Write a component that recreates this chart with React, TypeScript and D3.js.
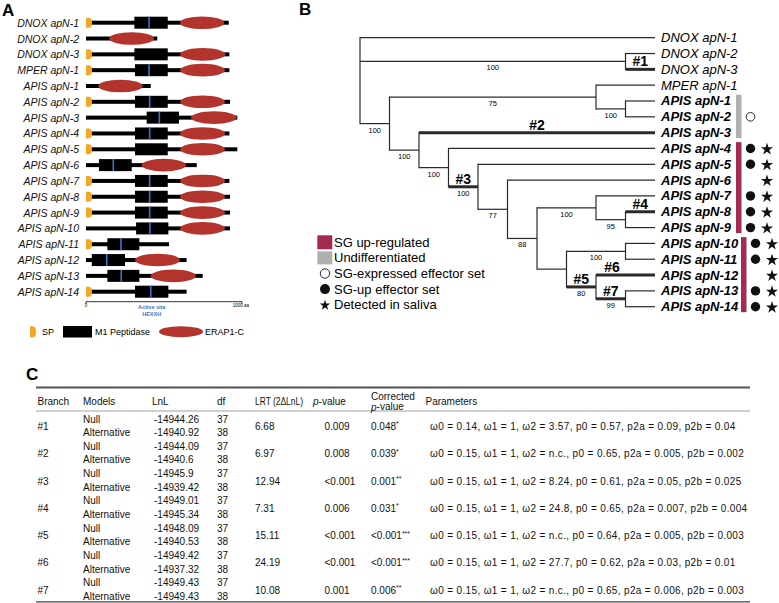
import React from 'react';
import * as d3 from 'd3';

const FONT = "'Liberation Sans', Arial, Helvetica, sans-serif";

// ---------- Panel A data ----------
const rowsA = ['DNOX apN-1', 'DNOX apN-2', 'DNOX apN-3', 'MPER apN-1', 'APIS apN-1', 'APIS apN-2', 'APIS apN-3', 'APIS apN-4', 'APIS apN-5', 'APIS apN-6', 'APIS apN-7', 'APIS apN-8', 'APIS apN-9', 'APIS apN-10', 'APIS apN-11', 'APIS apN-12', 'APIS apN-13', 'APIS apN-14'];
const protLength = [915, 457, 919, 919, 415, 923, 970, 919, 970, 710, 919, 923, 923, 923, 532, 645, 748, 645];
const hasSP = [1, 0, 1, 1, 0, 1, 0, 1, 1, 0, 1, 1, 1, 0, 1, 0, 0, 1];
const m1Start = [310, null, 310, 314, null, 314, 389, 314, 314, 83, 314, 314, 314, 321, 137, 37, 137, 314];
const m1End = [524, null, 524, 524, null, 524, 596, 524, 524, 293, 524, 524, 524, 528, 342, 250, 342, 528];
const activeSite = [404, null, null, 404, null, 408, 470, 408, null, 175, 408, 408, 408, 410, 224, 133, 226, 415];
const erapStart = [603, 149, 603, 603, 79, 603, 673, 603, 603, 357, 603, 603, 603, 603, null, 314, 415, null];
const erapEnd = [885, 436, 894, 891, 363, 891, 966, 891, 891, 641, 891, 891, 891, 891, null, 603, 705, null];
const axisTicks = [0, 1000];
const legendA = ['SP', 'M1 Peptidase', 'ERAP1-C'];

// ---------- Panel B data ----------
type TNode = { name?: string; level?: number; support?: string; mark?: string; markFrac?: number; children?: TNode[] };
const treeData: TNode = {
  level: 0,
  children: [
    { name: 'DNOX apN-1' },
    { level: 9, support: '100', children: [{ name: 'DNOX apN-2' }, { name: 'DNOX apN-3', mark: '#1' }] },
    {
      level: 1, support: '100', children: [
        { level: 8, support: '75', children: [{ name: 'MPER apN-1' }, { level: 9, support: '100', children: [{ name: 'APIS apN-1' }, { name: 'APIS apN-2' }] }] },
        {
          level: 2, support: '100', children: [
            { name: 'APIS apN-3', mark: '#2' },
            {
              level: 3, support: '100', children: [
                { name: 'APIS apN-4' },
                {
                  level: 4, support: '100', mark: '#3', children: [
                    { name: 'APIS apN-5' },
                    {
                      level: 5, support: '77', children: [
                        { name: 'APIS apN-6' },
                        {
                          level: 6, support: '88', children: [
                            { level: 8, support: '100', children: [{ name: 'APIS apN-7' }, { level: 9, support: '95', children: [{ name: 'APIS apN-8', mark: '#4' }, { name: 'APIS apN-9' }] }] },
                            {
                              level: 7, children: [
                                { level: 9, support: '100', children: [{ name: 'APIS apN-10' }, { name: 'APIS apN-11' }] },
                                { level: 8, support: '80', mark: '#5', children: [{ name: 'APIS apN-12', mark: '#6', markFrac: 0.27 }, { level: 9, support: '99', mark: '#7', children: [{ name: 'APIS apN-13' }, { name: 'APIS apN-14' }] }] },
                              ],
                            },
                          ],
                        },
                      ],
                    },
                  ],
                },
              ],
            },
          ],
        },
      ],
    },
  ],
};
const tipLevel = 10;
const exprGroups = [
  { type: 'undiff', leaves: ['APIS apN-1', 'APIS apN-2', 'APIS apN-3'] },
  { type: 'up', leaves: ['APIS apN-4', 'APIS apN-5', 'APIS apN-6', 'APIS apN-7', 'APIS apN-8', 'APIS apN-9'] },
  { type: 'up', leaves: ['APIS apN-10', 'APIS apN-11', 'APIS apN-12', 'APIS apN-13', 'APIS apN-14'] },
];
const circleLeaves = ['APIS apN-2', 'APIS apN-4', 'APIS apN-5', 'APIS apN-7', 'APIS apN-8', 'APIS apN-9', 'APIS apN-10', 'APIS apN-11', 'APIS apN-13', 'APIS apN-14'];
const circleKind = ['open', 'filled', 'filled', 'filled', 'filled', 'filled', 'filled', 'filled', 'filled', 'filled'];
const starLeaves = ['APIS apN-4', 'APIS apN-5', 'APIS apN-6', 'APIS apN-7', 'APIS apN-8', 'APIS apN-9', 'APIS apN-10', 'APIS apN-11', 'APIS apN-12', 'APIS apN-13', 'APIS apN-14'];
const legendB = ['SG up-regulated', 'Undifferentiated', 'SG-expressed effector set', 'SG-up effector set', 'Detected in saliva'];

// ---------- Panel C data ----------
const branches = ['#1', '#2', '#3', '#4', '#5', '#6', '#7'];
const lnlNull = ['-14944.26', '-14944.09', '-14945.9', '-14949.01', '-14948.09', '-14949.42', '-14949.43'];
const lnlAlt = ['-14940.92', '-14940.6', '-14939.42', '-14945.34', '-14940.53', '-14937.32', '-14949.43'];
const dfNull = 37;
const dfAlt = 38;
const lrt = ['6.68', '6.97', '12.94', '7.31', '15.11', '24.19', '10.08'];
const pValues = ['0.009', '0.008', '<0.001', '0.006', '<0.001', '<0.001', '0.001'];
const corrected = ['0.048', '0.039', '0.001', '0.031', '<0.001', '<0.001', '0.006'];
const signif = ['*', '*', '**', '*', '***', '***', '**'];
const params = [
  'ω0 = 0.14, ω1 = 1, ω2 = 3.57, p0 = 0.57, p2a = 0.09, p2b = 0.04',
  'ω0 = 0.15, ω1 = 1, ω2 = n.c., p0 = 0.65, p2a = 0.005, p2b = 0.002',
  'ω0 = 0.15, ω1 = 1, ω2 = 8.24, p0 = 0.61, p2a = 0.05, p2b = 0.025',
  'ω0 = 0.15, ω1 = 1, ω2 = 24.8, p0 = 0.65, p2a = 0.007, p2b = 0.004',
  'ω0 = 0.15, ω1 = 1, ω2 = n.c., p0 = 0.64, p2a = 0.005, p2b = 0.003',
  'ω0 = 0.15, ω1 = 1, ω2 = 27.7, p0 = 0.62, p2a = 0.03, p2b = 0.01',
  'ω0 = 0.15, ω1 = 1, ω2 = n.c., p0 = 0.65, p2a = 0.006, p2b = 0.003',
];

const ORANGE = '#f5a623';
const DARKRED = '#b3332d';
const BLUE = '#3d72c9';
const CRIMSON = '#a52a52';
const GREY = '#b0b0b0';
const LINE = '#2a2a2a';

function spPath(x: number, y: number, w: number, h: number) {
  return `M${x},${y - h / 2} h${w * 0.45} q${w * 0.55},0 ${w * 0.55},${h / 2} q0,${h / 2} ${-w * 0.55},${h / 2} h${-w * 0.45} z`;
}

function PanelA() {
  const x = d3.scaleLinear().domain([0, 1000]).range([86, 242]);
  const y = d3.scalePoint<string>().domain(rowsA).range([22.7, 291.7]);
  const boxH = 12;
  const axisY = 301.7;
  return (
    <g>
      <text x={2} y={16} fontSize={17} fontWeight="bold" fontFamily={FONT}>A</text>
      {rowsA.map((name, i) => {
        const cy = y(name)!;
        return (
          <g key={name}>
            <text x={79} y={cy} textAnchor="end" dominantBaseline="central" fontSize={10.5} fontStyle="italic" fontFamily={FONT} fill="#111">{name}</text>
            <rect x={x(0)} y={cy - 2} width={x(protLength[i]) - x(0)} height={4} fill="#000" />
            {m1Start[i] != null && (
              <rect x={x(m1Start[i]!)} y={cy - boxH / 2} width={x(m1End[i]!) - x(m1Start[i]!)} height={boxH} fill="#000" />
            )}
            {activeSite[i] != null && (
              <line x1={x(activeSite[i]!)} x2={x(activeSite[i]!)} y1={cy - boxH / 2} y2={cy + boxH / 2} stroke={BLUE} strokeWidth={1.6} />
            )}
            {erapStart[i] != null && (
              <ellipse cx={(x(erapStart[i]!) + x(erapEnd[i]!)) / 2} cy={cy} rx={(x(erapEnd[i]!) - x(erapStart[i]!)) / 2} ry={6.3} fill={DARKRED} />
            )}
            {hasSP[i] ? <path d={spPath(x(0), cy, 6, 10)} fill={ORANGE} /> : null}
          </g>
        );
      })}
      <line x1={x(0)} x2={x(1000)} y1={axisY} y2={axisY} stroke="#000" strokeWidth={0.8} />
      {axisTicks.map((t) => (
        <g key={t}>
          <line x1={x(t)} x2={x(t)} y1={axisY} y2={axisY + 2} stroke="#000" strokeWidth={0.8} />
          <text x={x(t) + (t === 0 ? 0 : -1)} y={axisY + 5} textAnchor="middle" fontSize={4.5} fontFamily={FONT}>{t === 0 ? '0' : `${t} aa`}</text>
        </g>
      ))}
      <text x={151.7} y={308.5} textAnchor="middle" fontSize={5.5} fontWeight="bold" fill={BLUE} fontFamily={FONT}>Active site</text>
      <text x={151.7} y={315.5} textAnchor="middle" fontSize={5.5} fontWeight="bold" fill={BLUE} fontFamily={FONT}>HEXXH</text>
      {/* legend */}
      <path d={spPath(30, 331.7, 6, 11)} fill={ORANGE} />
      <text x={42} y={331.7} dominantBaseline="central" fontSize={9} fontFamily={FONT}>{legendA[0]}</text>
      <rect x={63} y={326} width={29} height={11.5} fill="#000" />
      <text x={95} y={331.7} dominantBaseline="central" fontSize={9} fontFamily={FONT}>{legendA[1]}</text>
      <ellipse cx={181} cy={331.7} rx={22} ry={5.5} fill={DARKRED} />
      <text x={205} y={331.7} dominantBaseline="central" fontSize={9} fontFamily={FONT}>{legendA[2]}</text>
    </g>
  );
}

function PanelB() {
  const root = d3.hierarchy<TNode>(treeData);
  const leaves = root.leaves();
  const y = d3.scalePoint<string>().domain(leaves.map((l) => l.data.name!)).range([37.7, 306.7]);
  const x = d3.scaleLinear().domain([0, tipLevel]).range([360, 655]);
  const pos = new Map<any, { x: number; y: number }>();
  root.eachAfter((n) => {
    if (!n.children) pos.set(n, { x: x(tipLevel), y: y(n.data.name!)! });
    else {
      const c = n.children;
      pos.set(n, { x: x(n.data.level!), y: (pos.get(c[0])!.y + pos.get(c[c.length - 1])!.y) / 2 });
    }
  });
  const nodes = root.descendants();
  const barX = [736, 736, 741];
  const star = d3.symbol(d3.symbolStar, 46)()!;
  const starSmall = d3.symbol(d3.symbolStar, 34)()!;
  return (
    <g>
      <text x={299} y={15} fontSize={17} fontWeight="bold" fontFamily={FONT}>B</text>
      {nodes.map((n, i) => {
        const p = pos.get(n)!;
        const els: any[] = [];
        if (n.children) {
          const c = n.children;
          els.push(<line key="v" x1={p.x} x2={p.x} y1={pos.get(c[0])!.y} y2={pos.get(c[c.length - 1])!.y} stroke={LINE} strokeWidth={1.2} strokeLinecap="square" />);
        }
        if (n.parent) {
          const pp = pos.get(n.parent)!;
          const thick = !!n.data.mark;
          els.push(<line key="h" x1={pp.x} x2={p.x} y1={p.y} y2={p.y} stroke={LINE} strokeWidth={thick ? 3 : 1.2} />);
          if (n.data.support) {
            els.push(<text key="s" x={(pp.x + p.x) / 2} y={p.y + 6.5} textAnchor="middle" dominantBaseline="central" fontSize={7.5} fontFamily={FONT}>{n.data.support}</text>);
          }
          if (n.data.mark) {
            const f = n.data.markFrac ?? 0.5;
            els.push(<text key="m" x={pp.x + f * (p.x - pp.x)} y={p.y - 8} textAnchor="middle" dominantBaseline="central" fontSize={14} fontWeight="bold" fontFamily={FONT}>{n.data.mark}</text>);
          }
        }
        if (!n.children) {
          const name = n.data.name!;
          const isApis = name.startsWith('APIS');
          els.push(<text key="l" x={661} y={p.y} dominantBaseline="central" fontSize={13} fontStyle="italic" fontWeight={isApis ? 'bold' : 'normal'} fontFamily={FONT}>{name}</text>);
        }
        return <g key={i}>{els}</g>;
      })}
      {exprGroups.map((g, gi) => {
        const ys = g.leaves.map((l) => y(l)!);
        const y0 = d3.min(ys)! - 6.3;
        const y1 = d3.max(ys)! + 5.5;
        const bx = barX[gi];
        return (
          <g key={gi}>
            <rect x={bx} y={y0} width={5.5} height={y1 - y0} fill={g.type === 'up' ? CRIMSON : GREY} />
            {g.leaves.map((l) => {
              const ci = circleLeaves.indexOf(l);
              const hasStar = starLeaves.includes(l);
              const ly = y(l)!;
              return (
                <g key={l}>
                  {ci >= 0 && <circle cx={bx + 14.5} cy={ly} r={circleKind[ci] === 'open' ? 4.3 : 4.7} fill={circleKind[ci] === 'open' ? '#fff' : '#111'} stroke="#111" strokeWidth={circleKind[ci] === 'open' ? 0.9 : 0} />}
                  {hasStar && <path d={star} transform={`translate(${bx + 31},${ly + 0.8})`} fill="#111" />}
                </g>
              );
            })}
          </g>
        );
      })}
      {/* legend */}
      {legendB.map((t, i) => {
        const ly = 242.3 + i * 15.6;
        let marker;
        if (i === 0) marker = <rect x={317.3} y={ly - 7} width={15} height={14} fill={CRIMSON} />;
        else if (i === 1) marker = <rect x={317.3} y={ly - 6.5} width={15} height={13} fill={GREY} />;
        else if (i === 2) marker = <circle cx={325} cy={ly} r={4.7} fill="#fff" stroke="#111" strokeWidth={0.9} />;
        else if (i === 3) marker = <circle cx={325} cy={ly} r={5} fill="#111" />;
        else marker = <path d={starSmall} transform={`translate(325,${ly + 0.6})`} fill="#111" />;
        return (
          <g key={t}>
            {marker}
            <text x={334} y={ly} dominantBaseline="central" fontSize={13} fontFamily={FONT}>{t}</text>
          </g>
        );
      })}
    </g>
  );
}

function PanelC() {
  const rowY = d3.scaleLinear().domain([0, branches.length - 1]).range([419, 582.8]);
  const dy = 13.6;
  const cx = { branch: 37.5, model: 83, lnlH: 152, lnl: 154, df: 217, lrt: 255, pH: 313, p: 324.5, cor: 371, parH: 425.5, par: 430 };
  const fs = 10;
  const left = 36;
  const right = 750;
  return (
    <g fontFamily={FONT} fontSize={fs} fill="#111">
      <text x={26} y={380} fontSize={17} fontWeight="bold" fill="#000">C</text>
      <line x1={left} x2={right} y1={387.5} y2={387.5} stroke="#555" strokeWidth={2} />
      <line x1={left} x2={right} y1={411} y2={411} stroke="#888" strokeWidth={0.8} />
      <line x1={left} x2={right} y1={601.8} y2={601.8} stroke="#444" strokeWidth={1.3} />
      <g dominantBaseline="central">
        <text x={cx.branch} y={401}>Branch</text>
        <text x={cx.model} y={401}>Models</text>
        <text x={cx.lnlH} y={401}>LnL</text>
        <text x={cx.df} y={401}>df</text>
        <text x={cx.lrt} y={401} textLength={48} lengthAdjust="spacingAndGlyphs">LRT (2ΔLnL)</text>
        <text x={cx.pH} y={401}><tspan fontStyle="italic">p</tspan>-value</text>
        <text x={cx.cor} y={396}>Corrected</text>
        <text x={cx.cor} y={406.5}><tspan fontStyle="italic">p</tspan>-value</text>
        <text x={cx.parH} y={401}>Parameters</text>
        {branches.map((b, i) => {
          const y0 = rowY(i);
          const mid = y0 + dy / 2 + 0.6;
          return (
            <g key={b}>
              <text x={cx.branch} y={mid}>{b}</text>
              <text x={cx.model} y={y0}>Null</text>
              <text x={cx.model} y={y0 + dy}>Alternative</text>
              <text x={cx.lnl} y={y0}>{lnlNull[i]}</text>
              <text x={cx.lnl} y={y0 + dy}>{lnlAlt[i]}</text>
              <text x={cx.df} y={y0}>{dfNull}</text>
              <text x={cx.df} y={y0 + dy}>{dfAlt}</text>
              <text x={cx.lrt} y={mid}>{lrt[i]}</text>
              <text x={cx.p} y={mid}>{pValues[i]}</text>
              <text x={cx.cor} y={mid}>{corrected[i]}<tspan fontSize={7} dy={-3}>{signif[i]}</tspan></text>
              <text x={cx.par} y={mid} letterSpacing={0.35}>{params[i]}</text>
            </g>
          );
        })}
      </g>
    </g>
  );
}

export default function App() {
  return (
    <svg width={779} height={603} viewBox="0 0 779 603" style={{ position: 'absolute', left: 0, top: 0, background: '#fff' }}>
      <rect width={779} height={603} fill="#fff" />
      <PanelA />
      <PanelB />
      <PanelC />
    </svg>
  );
}
